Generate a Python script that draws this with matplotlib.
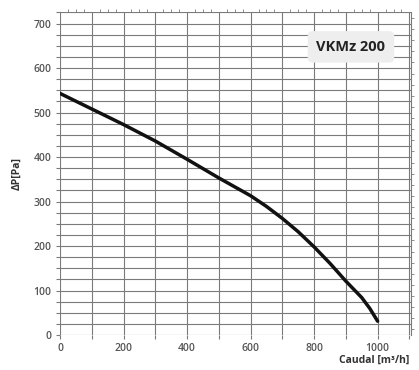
import matplotlib.pyplot as plt
import numpy as np
from matplotlib.ticker import MultipleLocator

# Curva VKMz 200
caudal = [0, 100, 200, 300, 400, 500, 600, 650, 700, 750, 800, 850, 900, 950, 975, 1000]
presion = [543, 508, 473, 436, 395, 353, 313, 289, 262, 232, 198, 161, 121, 84, 60, 31]

x_ticks = [0, 200, 400, 600, 800, 1000]
y_ticks = [0, 100, 200, 300, 400, 500, 600, 700]

plt.rcParams['font.family'] = ['Open Sans', 'DejaVu Sans']

fig = plt.figure(figsize=(4.19, 3.70), dpi=100)
ax = fig.add_axes([60 / 419, 35 / 370, 351 / 419, 323 / 370])

ax.set_xlim(0, 1105)
ax.set_ylim(0, 726)

ax.grid(True, which='major', color='#7a7a7a', linewidth=0.8)

ax.set_xticks(np.arange(0, 1101, 100))
ax.set_xticklabels([str(v) if v in x_ticks else '' for v in range(0, 1101, 100)])
ax.set_yticks(np.arange(0, 726, 25))
ax.set_yticklabels([str(v) if v in y_ticks else '' for v in range(0, 726, 25)])

ax.tick_params(axis='both', which='major', colors='#7a7a7a', labelcolor='#555555',
               labelsize=7.5, length=3, width=0.8, pad=3)
for lab in ax.get_xticklabels() + ax.get_yticklabels():
    lab.set_fontweight('semibold')

# small ticks on the top and right edges
ax.xaxis.set_minor_locator(MultipleLocator(25))
ax.yaxis.set_minor_locator(MultipleLocator(12.5))
ax.tick_params(axis='x', which='minor', top=True, bottom=False, direction='out',
               length=2, width=0.6, colors='#7a7a7a')
ax.tick_params(axis='y', which='minor', right=True, left=False, direction='out',
               length=2.5, width=0.6, colors='#7a7a7a')

for s in ax.spines.values():
    s.set_visible(False)
ax.spines['right'].set_visible(True)
ax.spines['right'].set_color('#7a7a7a')
ax.spines['right'].set_linewidth(0.8)

ax.plot(caudal, presion, color='#111111', linewidth=2.5, solid_capstyle='round',
        solid_joinstyle='round')

ax.set_ylabel('ΔP[Pa]', fontsize=7.5, fontweight='bold', color='#333333', labelpad=8)
fig.text(409 / 419, 10 / 370, 'Caudal [m³/h]', fontsize=7.5, fontweight='bold',
         color='#333333', ha='right', va='center')

ax.text(0.829, 0.892, 'VKMz 200', transform=ax.transAxes, ha='center', va='center',
        fontsize=10.5, fontweight='bold', color='#222222',
        bbox=dict(boxstyle='round,pad=0.6,rounding_size=0.35', fc='#eeeeee', ec='none'))

fig.savefig('out.png', dpi=100)
